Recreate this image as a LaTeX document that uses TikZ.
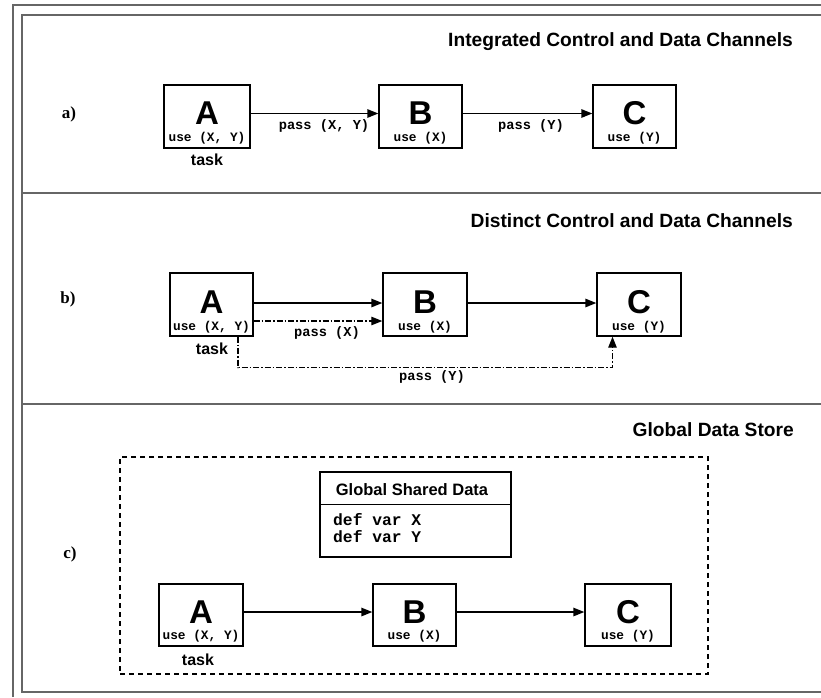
\documentclass[tikz,border=0pt]{standalone}
\usepackage{fontspec}
\setmainfont{Liberation Serif}
\setsansfont{Liberation Sans}
\setmonofont{Liberation Mono}
\usetikzlibrary{arrows.meta}
\tikzset{
  frameline/.style={line width=2pt, draw=black!60},
  taskbox/.style={draw, line width=1.4pt, inner sep=0pt, minimum height=63pt},
  letter/.style={font=\sffamily\bfseries\fontsize{33}{33}\selectfont, inner sep=0pt},
  usetext/.style={font=\ttfamily\bfseries\fontsize{12.8}{12.8}\selectfont, inner sep=0pt},
  passtext/.style={font=\ttfamily\bfseries\fontsize{13.7}{13.7}\selectfont, inner sep=0pt},
  tasktext/.style={font=\sffamily\bfseries\fontsize{16}{16}\selectfont, inner sep=0pt},
  titletext/.style={font=\sffamily\bfseries\fontsize{19.2}{19.2}\selectfont, inner sep=0pt, anchor=east},
  sectext/.style={font=\rmfamily\bfseries\fontsize{17}{17}\selectfont, inner sep=0pt},
  arr/.style={line width=1.4pt, -{Triangle[length=11pt,width=8.5pt]}},
  ddarr/.style={line width=1.2pt, dash pattern=on 6pt off 2pt on 1.5pt off 2pt, -{Triangle[length=11pt,width=8.5pt]}},
  storeframe/.style={draw, line width=1.4pt, dash pattern=on 5pt off 4pt, inner sep=0pt},
}
\begin{document}
\begin{tikzpicture}[x=1pt,y=-1pt]
\useasboundingbox (0,0) rectangle (821,697);
% frames
\draw[frameline] (13,697) -- (13,5) -- (821,5);
\draw[frameline] (821,15) -- (22,15) -- (22,692) -- (821,692);
\draw[frameline] (22,193) -- (821,193);
\draw[frameline] (22,404) -- (821,404);

% ---------- section a ----------
\node[titletext] (ta) at (793,42) {Integrated Control and Data Channels};
\node[sectext] (la) at (69,114) {a)};
\node[taskbox, minimum width=86pt, minimum height=63pt] (aA) at (207,116.5) {};
\node[taskbox, minimum width=83pt, minimum height=63pt] (aB) at (420.5,116.5) {};
\node[taskbox, minimum width=83pt, minimum height=63pt] (aC) at (634.5,116.5) {};
\node[letter] (aAl) at (207,113) {A};
\node[letter] (aBl) at (420.5,113) {B};
\node[letter] (aCl) at (634.5,113) {C};
\node[usetext] (aAu) at (207,138.5) {use (X, Y)};
\node[usetext] (aBu) at (420.5,138.5) {use (X)};
\node[usetext] (aCu) at (634.5,138.5) {use (Y)};
\node[tasktext] (aT) at (207,160) {task};
\draw[arr] ([yshift=3pt]aA.east) -- ([yshift=3pt]aB.west);
\draw[arr] ([yshift=3pt]aB.east) -- ([yshift=3pt]aC.west);
\node[passtext] (ap1) at (324,126) {pass (X, Y)};
\node[passtext] (ap2) at (531,126) {pass (Y)};

% ---------- section b ----------
\node[titletext] (tb) at (793,221) {Distinct Control and Data Channels};
\node[sectext] (lb) at (68,299) {b)};
\node[taskbox, minimum width=83pt] (bA) at (211.5,304.5) {};
\node[taskbox, minimum width=84pt] (bB) at (425,304.5) {};
\node[taskbox, minimum width=84pt] (bC) at (639,304.5) {};
\node[letter] (bAl) at (211.5,302.5) {A};
\node[letter] (bBl) at (425,302.5) {B};
\node[letter] (bCl) at (639,302.5) {C};
\node[usetext] (bAu) at (211.5,327) {use (X, Y)};
\node[usetext] (bBu) at (425,327) {use (X)};
\node[usetext] (bCu) at (639,327) {use (Y)};
\node[tasktext] (bT) at (212,349) {task};
\draw[arr] ([yshift=1.5pt]bA.east) -- ([yshift=1.5pt]bB.west);
\draw[arr] ([yshift=1.5pt]bB.east) -- ([yshift=1.5pt]bC.west);
\draw[ddarr] ([yshift=-16.5pt]bA.east) -- ([yshift=-16.5pt]bB.west);
\draw[ddarr] ([xshift=26.5pt]bA.south) -- ++(0,31) -| ([xshift=-26.5pt]bC.south);
\node[passtext] (bp1) at (327,333) {pass (X)};
\node[passtext] (bp2) at (432,377) {pass (Y)};

% ---------- section c ----------
\node[titletext] (tc) at (794,430) {Global Data Store};
\node[sectext] (lc) at (70,554) {c)};
\node[storeframe, minimum width=588pt, minimum height=217pt] (store) at (414,565.5) {};
\node[draw, line width=1.4pt, minimum width=191pt, minimum height=85pt, inner sep=0pt] (gsd) at (415.5,514.5) {};
\draw[line width=1.4pt] ([yshift=-33pt]gsd.north west) -- ([yshift=-33pt]gsd.north east);
\node[font=\sffamily\bfseries\fontsize{16.5}{16.5}\selectfont, inner sep=0pt] (gsdt) at (412,490) {Global Shared Data};
\node[font=\ttfamily\bfseries\fontsize{16.3}{17}\selectfont, inner sep=0pt, anchor=west, align=left] (gsdv) at (333,528.5) {def var X\\def var Y};
\node[taskbox, minimum width=84pt, minimum height=62pt] (cA) at (201,615) {};
\node[taskbox, minimum width=83pt, minimum height=62pt] (cB) at (414.5,615) {};
\node[taskbox, minimum width=86pt, minimum height=62pt] (cC) at (628,615) {};
\node[letter] (cAl) at (201,612.5) {A};
\node[letter] (cBl) at (414.5,612.5) {B};
\node[letter] (cCl) at (628,612.5) {C};
\node[usetext] (cAu) at (201,636.5) {use (X, Y)};
\node[usetext] (cBu) at (414.5,636.5) {use (X)};
\node[usetext] (cCu) at (628,636.5) {use (Y)};
\node[tasktext] (cT) at (198,660) {task};
\draw[arr] ([yshift=3pt]cA.east) -- ([yshift=3pt]cB.west);
\draw[arr] ([yshift=3pt]cB.east) -- ([yshift=3pt]cC.west);
\end{tikzpicture}
\end{document}
